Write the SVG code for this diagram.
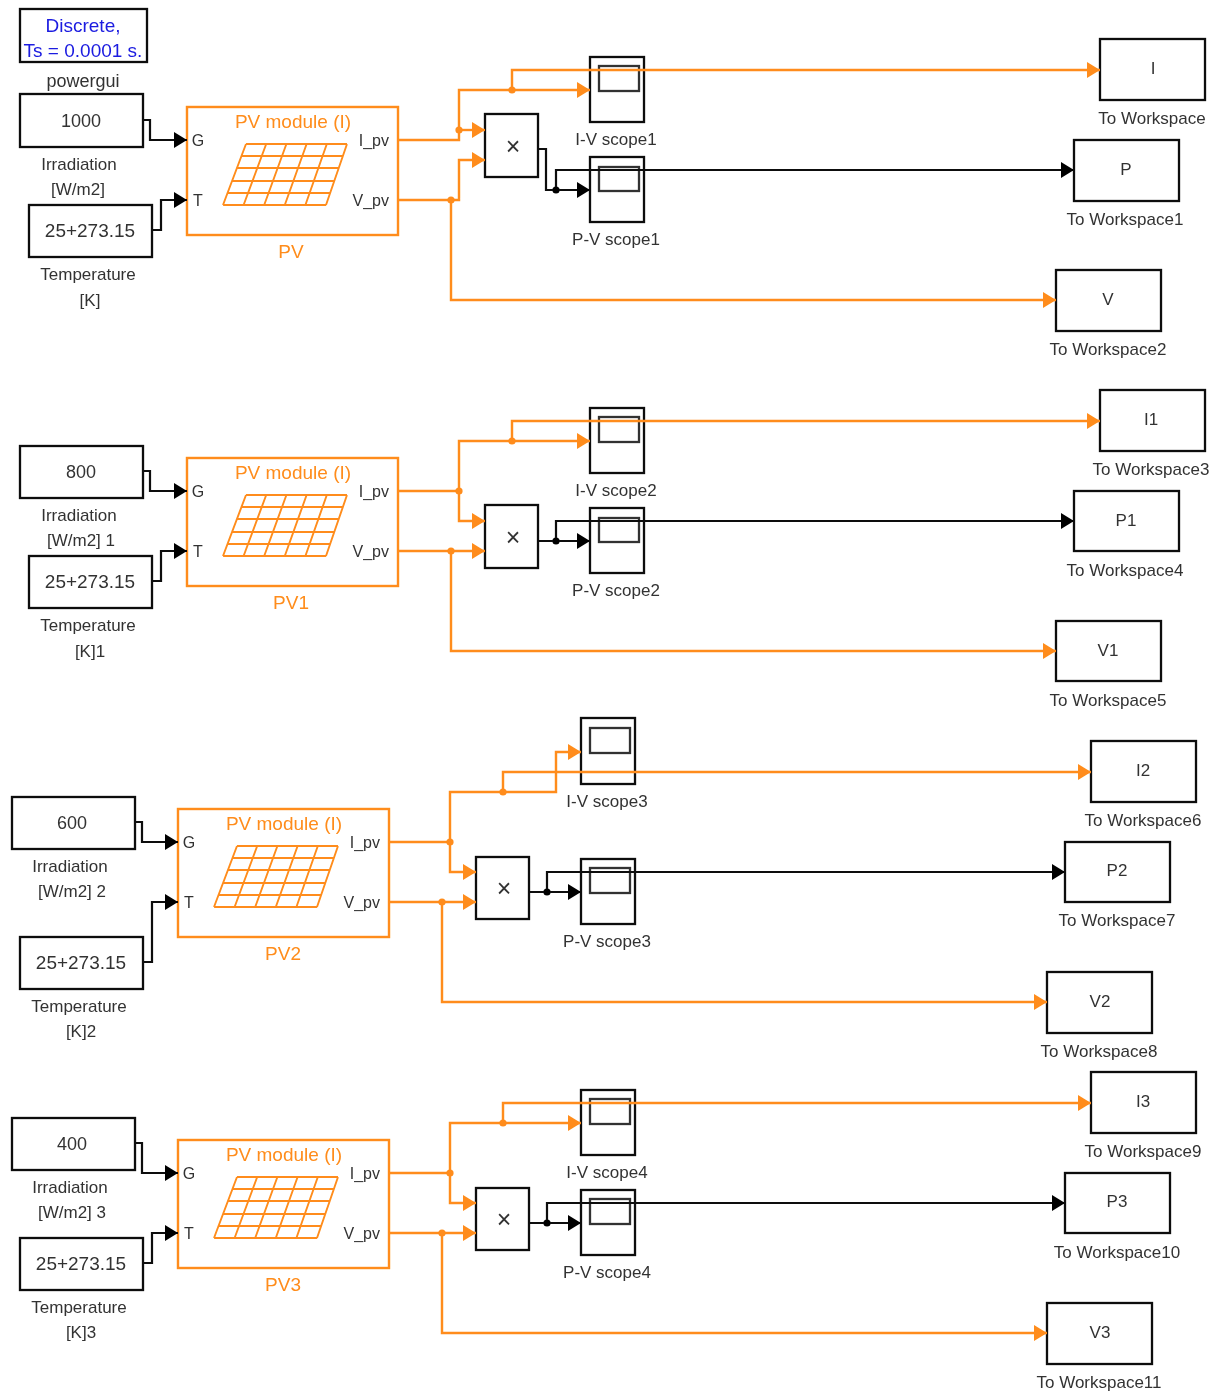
<svg xmlns="http://www.w3.org/2000/svg" width="1219" height="1394" viewBox="0 0 1219 1394">
<style>
text{font-family:"Liberation Sans",Arial,sans-serif;font-size:17px;fill:#333;text-anchor:middle}
.b{fill:#fff;stroke:#111;stroke-width:2.3}
.i{fill:none;stroke:#333;stroke-width:2.3}
.m{fill:#fff;stroke:#ff8c1a;stroke-width:2.4}
.e{text-anchor:end}
.p{font-size:16px}
.v{font-size:18px}
.w{font-size:19px}
.t{font-size:19px;fill:#ff8c1a}
.s{fill:#1a1ae0;font-size:19px}
.x{font-size:25px}
.co{fill:none;stroke:#ff8c1a;stroke-width:2.4}
.ck{fill:none;stroke:#111;stroke-width:2.2}
.do{fill:#ff8c1a}
.dk{fill:#000}
</style>
<defs>
<filter id="soft" filterUnits="userSpaceOnUse" x="0" y="0" width="1219" height="1394"><feGaussianBlur stdDeviation="0.7"/></filter>
<marker id="ao" markerUnits="userSpaceOnUse" markerWidth="13" markerHeight="16" refX="13" refY="8" orient="auto"><path d="M0,0L13,8L0,16Z" fill="#ff8c1a"/></marker>
<marker id="ak" markerUnits="userSpaceOnUse" markerWidth="13" markerHeight="16" refX="13" refY="8" orient="auto"><path d="M0,0L13,8L0,16Z" fill="#000"/></marker>
<path id="grid" fill="none" stroke="#ff8c1a" stroke-width="1.9" d="M246,144H347M241.4,156H342.8M236.8,168H338.6M232.2,181H334.4M227.6,193H330.2M223,205H326M246,144L223,205M266.2,144L243.6,205M286.4,144L264.2,205M306.6,144L284.8,205M326.8,144L305.4,205M347,144L326,205"/>
</defs>
<rect width="1219" height="1394" fill="#fff"/>
<g filter="url(#soft)">
<g id="powergui"><rect class="b" x="20" y="9" width="127" height="53"/><text class="s" x="83" y="32">Discrete,</text><text class="s" x="83" y="57">Ts = 0.0001 s.</text><text x="83" y="87" class="v">powergui</text></g>

<g id="irr0"><rect class="b" x="20" y="94" width="123" height="53"/><text class="v" x="81" y="127">1000</text><text x="79" y="170">Irradiation</text><text x="78" y="195">[W/m2]</text></g>
<g id="temp0"><rect class="b" x="29" y="205" width="123" height="52"/><text class="w" x="90" y="237">25+273.15</text><text x="88" y="280">Temperature</text><text x="90" y="306">[K]</text></g>
<g id="pv0"><rect class="m" x="187" y="107" width="211" height="128"/><use href="#grid"/><text class="t" x="293" y="128">PV module (I)</text><text class="p" x="198" y="146">G</text><text class="p" x="198" y="206">T</text><text class="e p" x="389" y="146">I_pv</text><text class="e p" x="389" y="206">V_pv</text><text class="t" x="291" y="258">PV</text></g>
<g id="prod0"><rect class="b" x="485" y="114" width="53" height="63"/><text class="x" x="513" y="155">×</text></g>
<g id="iv0"><rect class="b" x="590" y="57" width="54" height="65"/><rect class="i" x="599" y="66" width="40" height="25"/><text x="616" y="145">I-V scope1</text></g>
<g id="pvs0"><rect class="b" x="590" y="157" width="54" height="65"/><rect class="i" x="599" y="167" width="40" height="24"/><text x="616" y="245">P-V scope1</text></g>
<g id="wi0"><rect class="b" x="1100" y="39" width="105" height="61"/><text x="1153" y="74">I</text><text x="1152" y="124">To Workspace</text></g>
<g id="wp0"><rect class="b" x="1074" y="140" width="105" height="61"/><text x="1126" y="175">P</text><text x="1125" y="225">To Workspace1</text></g>
<g id="wv0"><rect class="b" x="1056" y="270" width="105" height="61"/><text x="1108" y="305">V</text><text x="1108" y="355">To Workspace2</text></g>

<g id="irr1"><rect class="b" x="20" y="446" width="123" height="52"/><text class="v" x="81" y="478">800</text><text x="79" y="521">Irradiation</text><text x="81" y="546">[W/m2] 1</text></g>
<g id="temp1"><rect class="b" x="29" y="556" width="123" height="52"/><text class="w" x="90" y="588">25+273.15</text><text x="88" y="631">Temperature</text><text x="90" y="657">[K]1</text></g>
<g id="pv1"><rect class="m" x="187" y="458" width="211" height="128"/><use href="#grid" y="351"/><text class="t" x="293" y="479">PV module (I)</text><text class="p" x="198" y="497">G</text><text class="p" x="198" y="557">T</text><text class="e p" x="389" y="497">I_pv</text><text class="e p" x="389" y="557">V_pv</text><text class="t" x="291" y="609">PV1</text></g>
<g id="prod1"><rect class="b" x="485" y="505" width="53" height="63"/><text class="x" x="513" y="546">×</text></g>
<g id="iv1"><rect class="b" x="590" y="408" width="54" height="65"/><rect class="i" x="599" y="417" width="40" height="25"/><text x="616" y="496">I-V scope2</text></g>
<g id="pvs1"><rect class="b" x="590" y="508" width="54" height="65"/><rect class="i" x="599" y="518" width="40" height="24"/><text x="616" y="596">P-V scope2</text></g>
<g id="wi1"><rect class="b" x="1100" y="390" width="105" height="61"/><text x="1151" y="425">I1</text><text x="1151" y="475">To Workspace3</text></g>
<g id="wp1"><rect class="b" x="1074" y="491" width="105" height="60"/><text x="1126" y="526">P1</text><text x="1125" y="576">To Workspace4</text></g>
<g id="wv1"><rect class="b" x="1056" y="621" width="105" height="60"/><text x="1108" y="656">V1</text><text x="1108" y="706">To Workspace5</text></g>

<g id="irr2"><rect class="b" x="12" y="797" width="123" height="52"/><text class="v" x="72" y="829">600</text><text x="70" y="872">Irradiation</text><text x="72" y="897">[W/m2] 2</text></g>
<g id="temp2"><rect class="b" x="20" y="937" width="123" height="52"/><text class="w" x="81" y="969">25+273.15</text><text x="79" y="1012">Temperature</text><text x="81" y="1037">[K]2</text></g>
<g id="pv2"><rect class="m" x="178" y="809" width="211" height="128"/><use href="#grid" x="-9" y="702"/><text class="t" x="284" y="830">PV module (I)</text><text class="p" x="189" y="848">G</text><text class="p" x="189" y="908">T</text><text class="e p" x="380" y="848">I_pv</text><text class="e p" x="380" y="908">V_pv</text><text class="t" x="283" y="960">PV2</text></g>
<g id="prod2"><rect class="b" x="476" y="857" width="53" height="62"/><text class="x" x="504" y="897">×</text></g>
<g id="iv2"><rect class="b" x="581" y="718" width="54" height="66"/><rect class="i" x="590" y="728" width="40" height="25"/><text x="607" y="807">I-V scope3</text></g>
<g id="pvs2"><rect class="b" x="581" y="859" width="54" height="65"/><rect class="i" x="590" y="868" width="40" height="25"/><text x="607" y="947">P-V scope3</text></g>
<g id="wi2"><rect class="b" x="1091" y="741" width="105" height="61"/><text x="1143" y="776">I2</text><text x="1143" y="826">To Workspace6</text></g>
<g id="wp2"><rect class="b" x="1065" y="842" width="105" height="60"/><text x="1117" y="876">P2</text><text x="1117" y="926">To Workspace7</text></g>
<g id="wv2"><rect class="b" x="1047" y="972" width="105" height="61"/><text x="1100" y="1007">V2</text><text x="1099" y="1057">To Workspace8</text></g>

<g id="irr3"><rect class="b" x="12" y="1118" width="123" height="52"/><text class="v" x="72" y="1150">400</text><text x="70" y="1193">Irradiation</text><text x="72" y="1218">[W/m2] 3</text></g>
<g id="temp3"><rect class="b" x="20" y="1238" width="123" height="52"/><text class="w" x="81" y="1270">25+273.15</text><text x="79" y="1313">Temperature</text><text x="81" y="1338">[K]3</text></g>
<g id="pv3"><rect class="m" x="178" y="1140" width="211" height="128"/><use href="#grid" x="-9" y="1033"/><text class="t" x="284" y="1161">PV module (I)</text><text class="p" x="189" y="1179">G</text><text class="p" x="189" y="1239">T</text><text class="e p" x="380" y="1179">I_pv</text><text class="e p" x="380" y="1239">V_pv</text><text class="t" x="283" y="1291">PV3</text></g>
<g id="prod3"><rect class="b" x="476" y="1188" width="53" height="62"/><text class="x" x="504" y="1228">×</text></g>
<g id="iv3"><rect class="b" x="581" y="1090" width="54" height="65"/><rect class="i" x="590" y="1099" width="40" height="25"/><text x="607" y="1178">I-V scope4</text></g>
<g id="pvs3"><rect class="b" x="581" y="1190" width="54" height="65"/><rect class="i" x="590" y="1199" width="40" height="25"/><text x="607" y="1278">P-V scope4</text></g>
<g id="wi3"><rect class="b" x="1091" y="1072" width="105" height="61"/><text x="1143" y="1107">I3</text><text x="1143" y="1157">To Workspace9</text></g>
<g id="wp3"><rect class="b" x="1065" y="1173" width="105" height="60"/><text x="1117" y="1207">P3</text><text x="1117" y="1258">To Workspace10</text></g>
<g id="wv3"><rect class="b" x="1047" y="1303" width="105" height="61"/><text x="1100" y="1338">V3</text><text x="1099" y="1388">To Workspace11</text></g>

<g id="connectors">
<g class="ck">
<path marker-end="url(#ak)" d="M143,120H150V140H187"/>
<path marker-end="url(#ak)" d="M152,230H161V200H187"/>
<path marker-end="url(#ak)" d="M538,149H546V190H590"/>
<path marker-end="url(#ak)" d="M556,190V170H1074"/>
<path marker-end="url(#ak)" d="M143,471H150V491H187"/>
<path marker-end="url(#ak)" d="M152,581H161V551H187"/>
<path marker-end="url(#ak)" d="M538,541H590"/>
<path marker-end="url(#ak)" d="M556,541V521H1074"/>
<path marker-end="url(#ak)" d="M135,822H142V842H178"/>
<path marker-end="url(#ak)" d="M143,962H152V902H178"/>
<path marker-end="url(#ak)" d="M529,892H581"/>
<path marker-end="url(#ak)" d="M547,892V872H1065"/>
<path marker-end="url(#ak)" d="M135,1143H142V1173H178"/>
<path marker-end="url(#ak)" d="M143,1263H152V1233H178"/>
<path marker-end="url(#ak)" d="M529,1223H581"/>
<path marker-end="url(#ak)" d="M547,1223V1203H1065"/>
</g>
<g class="co">
<path marker-end="url(#ao)" d="M398,140H459V90H590"/>
<path marker-end="url(#ao)" d="M512,90V70H1100"/>
<path marker-end="url(#ao)" d="M459,130H485"/>
<path marker-end="url(#ao)" d="M398,200H459V160H485"/>
<path marker-end="url(#ao)" d="M451,200V300H1056"/>
<path marker-end="url(#ao)" d="M398,491H459V441H590"/>
<path marker-end="url(#ao)" d="M512,441V421H1100"/>
<path marker-end="url(#ao)" d="M459,491V521H485"/>
<path marker-end="url(#ao)" d="M398,551H485"/>
<path marker-end="url(#ao)" d="M451,551V651H1056"/>
<path marker-end="url(#ao)" d="M389,842H450V792H556V752H581"/>
<path marker-end="url(#ao)" d="M503,792V772H1091"/>
<path marker-end="url(#ao)" d="M450,842V872H476"/>
<path marker-end="url(#ao)" d="M389,902H476"/>
<path marker-end="url(#ao)" d="M442,902V1002H1047"/>
<path marker-end="url(#ao)" d="M389,1173H450V1123H581"/>
<path marker-end="url(#ao)" d="M503,1123V1103H1091"/>
<path marker-end="url(#ao)" d="M450,1173V1203H476"/>
<path marker-end="url(#ao)" d="M389,1233H476"/>
<path marker-end="url(#ao)" d="M442,1233V1333H1047"/>
</g>
<g class="do">
<circle cx="512" cy="90" r="3.6"/><circle cx="459" cy="130" r="3.6"/><circle cx="451" cy="200" r="3.6"/>
<circle cx="512" cy="441" r="3.6"/><circle cx="459" cy="491" r="3.6"/><circle cx="451" cy="551" r="3.6"/>
<circle cx="503" cy="792" r="3.6"/><circle cx="450" cy="842" r="3.6"/><circle cx="442" cy="902" r="3.6"/>
<circle cx="503" cy="1123" r="3.6"/><circle cx="450" cy="1173" r="3.6"/><circle cx="442" cy="1233" r="3.6"/>
</g>
<g class="dk">
<circle cx="556" cy="190" r="3.6"/><circle cx="556" cy="541" r="3.6"/><circle cx="547" cy="892" r="3.6"/><circle cx="547" cy="1223" r="3.6"/>
</g>
</g>
</g>
</svg>
